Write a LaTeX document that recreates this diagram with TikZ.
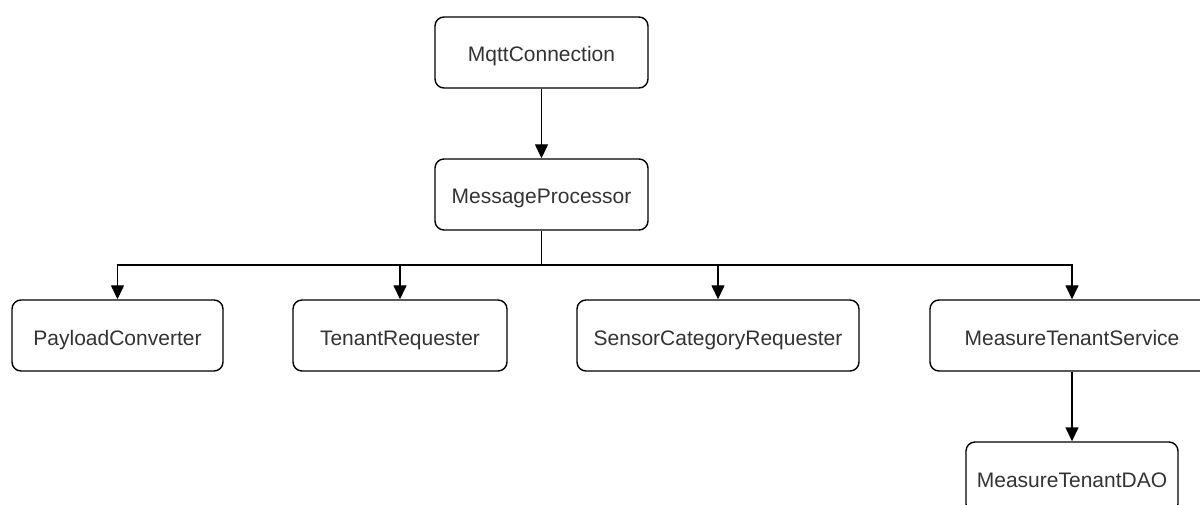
\documentclass[tikz,border=0pt]{standalone}
\usepackage{fontspec}
\setmainfont{Liberation Sans}
\usetikzlibrary{arrows.meta}
\definecolor{txt}{HTML}{333333}
\begin{document}
\begin{tikzpicture}[x=1pt,y=-1pt,
  box/.style={draw=black, line width=1.4pt, rounded corners=9pt, fill=white,
    inner sep=0pt, minimum height=71pt, text=txt, text height=19pt, text depth=0pt,
    font=\fontsize{21}{25}\selectfont},
  conn/.style={draw=black, line width=1.4pt},
  arr/.style={conn, -{Triangle[length=14pt,width=13pt]}}]
\useasboundingbox (0,0) rectangle (1200,505);
\clip (0,0) rectangle (1200,505);
\fill[white] (0,0) rectangle (1200,505);
\node[box, minimum width=213pt] (mqtt) at (541.5,52.5) {MqttConnection};
\node[box, minimum width=213pt] (mp) at (541.5,194.5) {MessageProcessor};
\node[box, minimum width=211pt] (pc) at (117.5,335.5) {PayloadConverter};
\node[box, minimum width=214pt] (tr) at (400,335.5) {TenantRequester};
\node[box, minimum width=282pt] (scr) at (718,335.5) {SensorCategoryRequester};
\node[box, minimum width=284pt] (mts) at (1072,335.5) {MeasureTenantService};
\node[box, minimum width=212pt] (dao) at (1072,477.5) {MeasureTenantDAO};
\coordinate (bus) at (541.5,265);
\draw[arr] (mqtt.south) -- (mp.north);
\draw[conn] (mp.south) -- (bus);
\draw[arr] (bus) -| (pc.north);
\draw[arr] (bus) -| (tr.north);
\draw[arr] (bus) -| (scr.north);
\draw[arr] (bus) -| (mts.north);
\draw[arr] (mts.south) -- (dao.north);
\end{tikzpicture}
\end{document}
